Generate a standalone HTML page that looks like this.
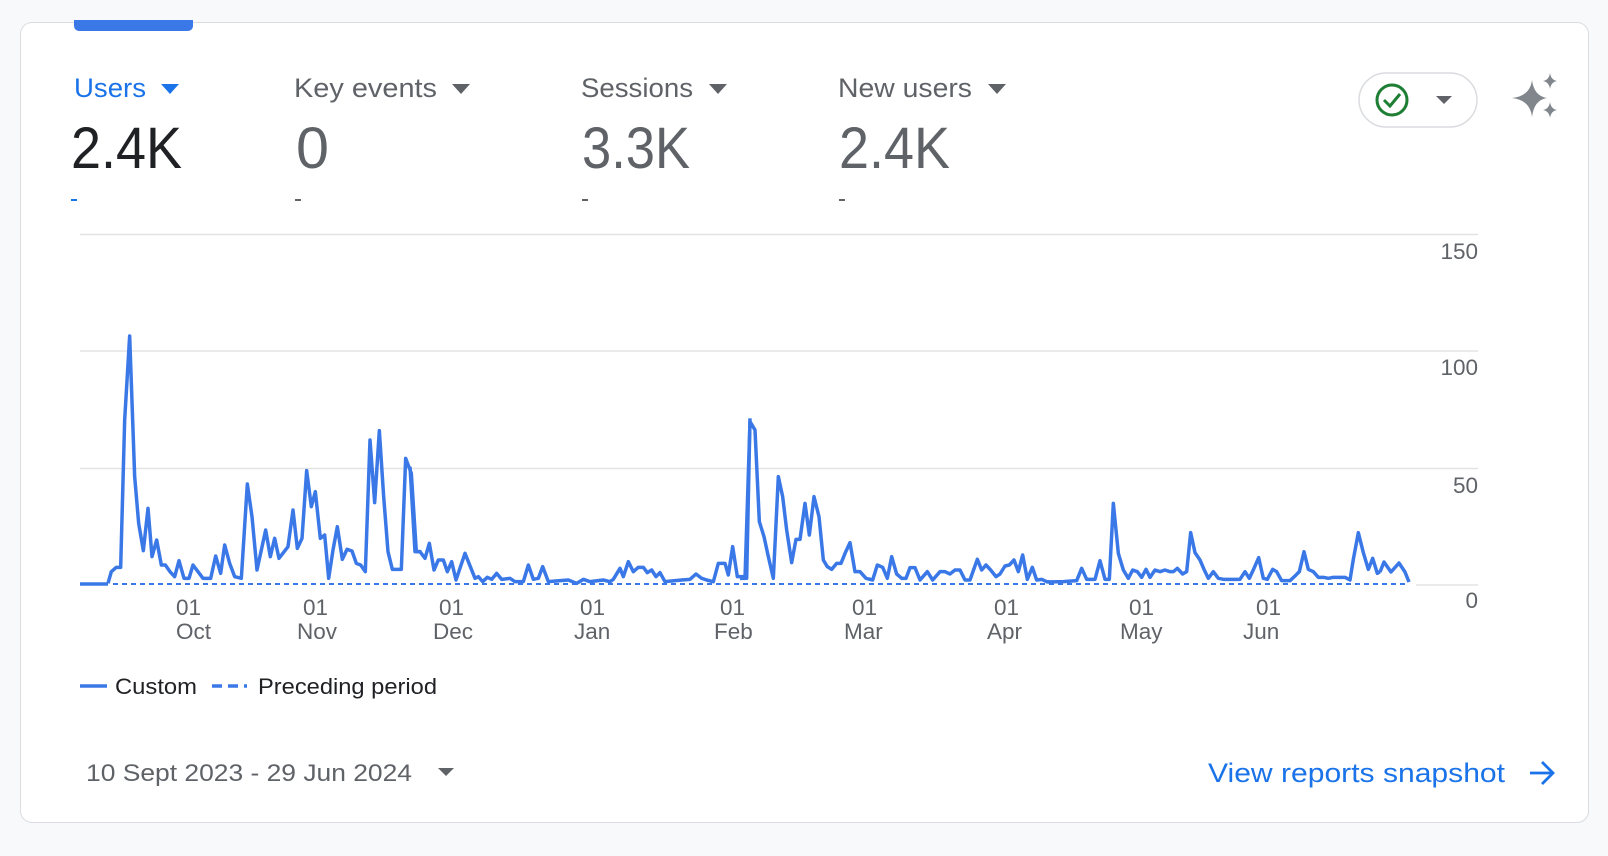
<!DOCTYPE html>
<html><head><meta charset="utf-8"><style>
body{margin:0;width:1608px;height:856px;background:#f8f9fa;font-family:"Liberation Sans",sans-serif;overflow:hidden;position:relative}
.card{position:absolute;left:20px;top:22px;width:1569px;height:801px;background:#fff;border:1.5px solid #dadce0;border-radius:12px;box-sizing:border-box}
</style></head><body>
<div class="card"></div>
<div style="position:absolute;left:74px;top:20px;width:119px;height:11px;background:#3b78e7;border-radius:0 0 5px 5px"></div>
<svg width="1608" height="856" style="position:absolute;left:0;top:0" font-family="Liberation Sans, sans-serif">
<text x="74" y="97" font-size="27" fill="#1a73e8" textLength="72" lengthAdjust="spacingAndGlyphs">Users</text>
<polygon points="161,84 179,84 170,94" fill="#1a73e8"/>
<text x="294" y="97" font-size="27" fill="#5f6368" textLength="143" lengthAdjust="spacingAndGlyphs">Key events</text>
<polygon points="452,84 470,84 461,94" fill="#5f6368"/>
<text x="581" y="97" font-size="27" fill="#5f6368" textLength="112" lengthAdjust="spacingAndGlyphs">Sessions</text>
<polygon points="709,84 727,84 718,94" fill="#5f6368"/>
<text x="838" y="97" font-size="27" fill="#5f6368" textLength="134" lengthAdjust="spacingAndGlyphs">New users</text>
<polygon points="988,84 1006,84 997,94" fill="#5f6368"/>
<text x="71" y="168" font-size="58" fill="#202124" textLength="111" lengthAdjust="spacingAndGlyphs">2.4K</text>
<text x="296" y="168" font-size="58" fill="#5f6368" textLength="33" lengthAdjust="spacingAndGlyphs">0</text>
<text x="582" y="168" font-size="58" fill="#5f6368" textLength="108" lengthAdjust="spacingAndGlyphs">3.3K</text>
<text x="839" y="168" font-size="58" fill="#5f6368" textLength="111" lengthAdjust="spacingAndGlyphs">2.4K</text>
<rect x="71" y="199" width="6" height="2" fill="#1a73e8"/>
<rect x="295" y="199" width="6" height="2" fill="#5f6368"/>
<rect x="582" y="199" width="6" height="2" fill="#5f6368"/>
<rect x="839" y="199" width="6" height="2" fill="#5f6368"/>
<rect x="1359" y="73" width="118" height="54" rx="27" fill="#fff" stroke="#dadce0" stroke-width="1.5"/>
<circle cx="1392" cy="100" r="15" fill="none" stroke="#1e7e34" stroke-width="3"/>
<polyline points="1384,100 1390,106 1400,94" fill="none" stroke="#1e7e34" stroke-width="3"/>
<polygon points="1436,96 1452,96 1444,104" fill="#5f6368"/>
<path d="M1532,80 Q1534,96 1547,98 Q1534,100 1532,117 Q1530,100 1512,98 Q1530,96 1532,80Z" fill="#80868b"/>
<path d="M1550,73 Q1551,80 1557,81 Q1551,82 1550,89 Q1549,82 1543,81 Q1549,80 1550,73Z" fill="#80868b"/>
<path d="M1550,102 Q1551,109 1557,110 Q1551,111 1550,118 Q1549,111 1543,110 Q1549,109 1550,102Z" fill="#80868b"/>
<g stroke="#e3e3e3" stroke-width="1.5">
<line x1="80" y1="234.5" x2="1478" y2="234.5"/>
<line x1="80" y1="351" x2="1478" y2="351"/>
<line x1="80" y1="468.5" x2="1478" y2="468.5"/>
<line x1="1416" y1="585" x2="1478" y2="585"/>
</g>
<g font-size="22.5" fill="#5f6368" text-anchor="end">
<text x="1478" y="259">150</text><text x="1478" y="375">100</text><text x="1478" y="493">50</text><text x="1478" y="608">0</text>
</g>
<g font-size="22.5" fill="#5f6368">
<text x="176" y="615">01</text><text x="176" y="639">Oct</text>
<text x="303" y="615">01</text><text x="297" y="639">Nov</text>
<text x="439" y="615">01</text><text x="433" y="639">Dec</text>
<text x="580" y="615">01</text><text x="574" y="639">Jan</text>
<text x="720" y="615">01</text><text x="714" y="639">Feb</text>
<text x="852" y="615">01</text><text x="844" y="639">Mar</text>
<text x="994" y="615">01</text><text x="987" y="639">Apr</text>
<text x="1129" y="615">01</text><text x="1120" y="639">May</text>
<text x="1256" y="615">01</text><text x="1243" y="639">Jun</text>
</g>
<line x1="113" y1="584" x2="1409" y2="584" stroke="#3b78e7" stroke-width="2" stroke-dasharray="5,4"/>
<g fill="none" stroke="#3b78e7" stroke-width="3.5" stroke-linejoin="round">
<polyline points="80,584 108,584"/>
<g transform="translate(78,310) scale(0.33333)"><polyline vector-effect="non-scaling-stroke" points="90,820 100,785 115,772 128,772 140,330 155,78 170,500 182,640 196,722 210,595 222,740 236,690 250,765 262,765 276,785 290,800 303,752 318,805 333,805 345,765 360,785 375,805 398,805 413,738 428,790 440,705 455,760 470,800 490,805 508,522 522,620 537,780 550,720 563,660 577,740 590,685 603,745 630,710 645,600 658,715 672,685 686,482 700,590 712,545 727,685 740,675 752,805 765,720 778,650 793,748 807,718 822,723 835,760 848,765 862,785 876,390 890,578 904,362 917,560 930,725 943,778 970,778 983,445 1000,490 1015,725 1030,725"/></g>
<g transform="translate(410,390) scale(0.33333)"><polyline vector-effect="non-scaling-stroke" points="0,230 15,485 30,485 45,505 58,460 72,540 85,510 100,510 112,545 125,515 138,570 165,490 195,565 205,560 218,575 232,562 245,568 260,550 275,568 300,565 315,575 340,575 355,525 370,568 385,565 398,530 415,575 475,570 500,580 520,568 540,575 580,570 600,575 610,568 630,535 640,560 655,515 670,545 685,532 700,532 712,548 725,540 738,560 750,548 765,575 815,570 840,568 858,552 875,565 890,570 910,575 925,520 945,520 955,555 968,470 982,560 1000,560 1010,565 1020,85"/></g>
<g transform="translate(740,390) scale(0.33333)"><polyline vector-effect="non-scaling-stroke" points="0,565 15,565 30,95 45,120 58,395 72,440 85,500 100,565 115,260 128,320 140,420 155,518 168,448 180,448 195,340 208,435 222,320 237,380 250,510 262,530 275,538 290,520 303,520 316,488 330,458 345,545 360,545 378,565 398,570 412,525 428,532 442,565 455,500 470,552 485,565 498,565 510,533 525,533 540,570 562,545 578,570 600,545 615,545 630,552 645,540 660,540 675,570 690,570 712,508 725,540 738,525 752,540 768,560 780,552 795,528 808,525 822,510 835,545 848,495 862,568 877,532 890,570 905,568 920,575 930,576"/></g>
<g transform="translate(1050,390) scale(0.33333)"><polyline vector-effect="non-scaling-stroke" points="-10,576 40,575 80,572 95,535 110,568 135,568 150,512 165,568 178,568 190,340 205,490 220,540 235,565 248,540 262,545 275,562 288,538 300,562 315,540 330,545 345,540 360,545 370,545 382,535 398,552 410,545 422,428 435,488 450,510 462,538 475,565 490,545 505,565 520,568 570,568 585,545 598,565 612,535 626,503 640,565 652,568 668,538 680,545 695,572 720,572 735,558 748,545 762,485 775,538 790,545 805,562 820,562 835,565 850,562 885,562 900,570 910,508 925,428 940,488 955,538 968,505 982,550 990,545"/></g>
<polyline points="1380,572 1384,562 1391,572 1399,563 1405,572 1409,582"/>
</g>
<line x1="80" y1="686" x2="107" y2="686" stroke="#3b78e7" stroke-width="3.5"/>
<text x="115" y="694" font-size="22.5" fill="#202124" textLength="82" lengthAdjust="spacingAndGlyphs">Custom</text>
<line x1="212" y1="686" x2="247" y2="686" stroke="#3b78e7" stroke-width="3.5" stroke-dasharray="10,6"/>
<text x="258" y="694" font-size="22.5" fill="#202124" textLength="179" lengthAdjust="spacingAndGlyphs">Preceding period</text>
<text x="86" y="781" font-size="24.5" fill="#5f6368" textLength="326" lengthAdjust="spacingAndGlyphs">10 Sept 2023 - 29 Jun 2024</text>
<polygon points="438,768 454,768 446,776" fill="#5f6368"/>
<text x="1208" y="782" font-size="26.5" fill="#1a73e8" textLength="297" lengthAdjust="spacingAndGlyphs">View reports snapshot</text>
<g stroke="#1a73e8" stroke-width="2.8" fill="none"><line x1="1530" y1="773" x2="1552" y2="773"/><polyline points="1542,762 1553,773 1542,784"/></g>
</svg>
</body></html>
